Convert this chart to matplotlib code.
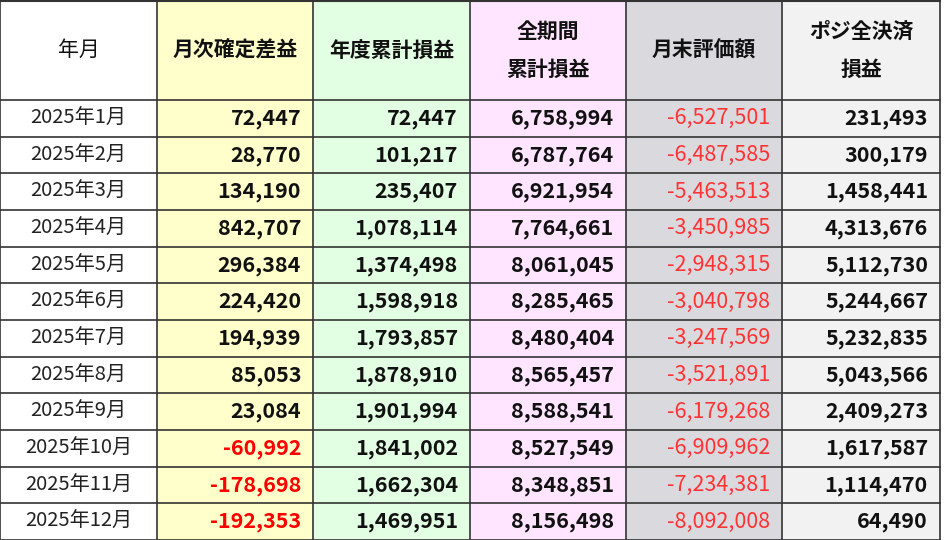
import matplotlib
matplotlib.use("Agg")
import matplotlib.pyplot as plt
from matplotlib.patches import Rectangle

plt.rcParams['font.family'] = ['Noto Sans CJK JP', 'DejaVu Sans']

headers = ["年月", "月次確定差益", "年度累計損益", "全期間\n累計損益", "月末評価額", "ポジ全決済\n損益"]
months = [f"2025年{i}月" for i in range(1, 13)]
monthly = [72447, 28770, 134190, 842707, 296384, 224420, 194939, 85053, 23084, -60992, -178698, -192353]
ytd = [72447, 101217, 235407, 1078114, 1374498, 1598918, 1793857, 1878910, 1901994, 1841002, 1662304, 1469951]
total = [6758994, 6787764, 6921954, 7764661, 8061045, 8285465, 8480404, 8565457, 8588541, 8527549, 8348851, 8156498]
valuation = [-6527501, -6487585, -5463513, -3450985, -2948315, -3040798, -3247569, -3521891, -6179268, -6909962, -7234381, -8092008]
settle = [231493, 300179, 1458441, 4313676, 5112730, 5244667, 5232835, 5043566, 2409273, 1617587, 1114470, 64490]

W, H = 945, 540
fig = plt.figure(figsize=(9.45, 5.4), dpi=100)
ax = fig.add_axes([0, 0, 1, 1])
ax.set_xlim(0, W); ax.set_ylim(H, 0); ax.axis('off')

xs = [0, 157, 313, 470, 626, 782, 940]
head_h = 100
row_h = (H - head_h) / 12
fills = ["#FFFFFF", "#FFFFCC", "#E3FFE3", "#FFE5FF", "#D9D9DE", "#F2F2F2"]
cols = [months, monthly, ytd, total, valuation, settle]

for c in range(6):
    ax.add_patch(Rectangle((xs[c], 0), xs[c+1]-xs[c], H, facecolor=fills[c], edgecolor='none'))
    x0, x1 = xs[c], xs[c+1]
    ax.text((x0+x1)/2, head_h/2, headers[c], ha='center', va='center', fontsize=15,
            fontweight='normal' if c == 0 else 'bold', linespacing=2.0, color='#111111')
    for r in range(12):
        yc = head_h + (r + 0.5) * row_h
        v = cols[c][r]
        if c == 0:
            ax.text((x0+x1)/2, yc, v, ha='center', va='center', fontsize=14.5, color='#222222')
        else:
            color = '#111111'
            weight = 'bold'
            if c == 4:
                color = '#FF3333'; weight = 'normal'
            elif v < 0:
                color = '#FF0000'
            ax.text(x1 - 12, yc, f"{v:,}", ha='right', va='center', fontsize=15.5,
                    fontweight=weight, color=color)

for x in xs:
    ax.plot([x, x], [0, H], color='#333333', lw=1.2)
ax.plot([0, 940], [1, 1], color='#333333', lw=1.5)
for r in range(13):
    y = head_h + r * row_h
    ax.plot([0, 940], [y, y], color='#333333', lw=1.2)

fig.savefig("out.png", dpi=100)
